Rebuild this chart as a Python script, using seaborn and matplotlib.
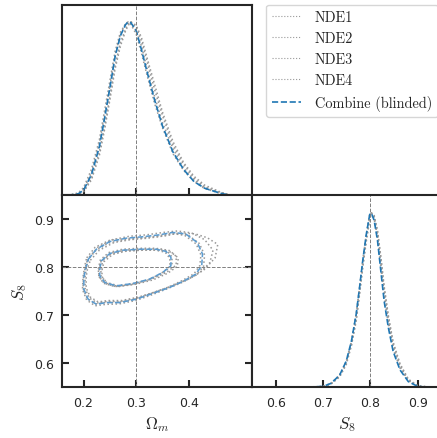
import numpy as np
import pandas as pd
import seaborn as sns
import matplotlib
matplotlib.use('Agg')
import matplotlib.pyplot as plt

# ---- marginal of Omega_m (normalised to peak = 1)
om_grid = [0.17, 0.19, 0.20, 0.215, 0.23, 0.24, 0.25, 0.26, 0.27, 0.28, 0.285, 0.29,
           0.30, 0.31, 0.32, 0.335, 0.35, 0.37, 0.39, 0.41, 0.43, 0.46, 0.48]
om_combine = [0.0, 0.01, 0.03, 0.12, 0.28, 0.445, 0.62, 0.80, 0.92, 0.985, 1.0, 0.995,
              0.95, 0.84, 0.72, 0.55, 0.40, 0.25, 0.15, 0.08, 0.042, 0.013, 0.0]
om_nde1 = [0.0, 0.015, 0.045, 0.15, 0.32, 0.49, 0.66, 0.83, 0.94, 0.99, 1.0, 0.985,
           0.93, 0.82, 0.70, 0.53, 0.39, 0.24, 0.145, 0.08, 0.04, 0.012, 0.0]
om_nde2 = [0.0, 0.008, 0.025, 0.10, 0.25, 0.40, 0.57, 0.75, 0.88, 0.96, 0.99, 1.0,
           0.97, 0.89, 0.78, 0.61, 0.46, 0.29, 0.18, 0.10, 0.05, 0.018, 0.0]
om_nde3 = [0.0, 0.006, 0.02, 0.09, 0.23, 0.38, 0.55, 0.73, 0.86, 0.95, 0.98, 1.0,
           0.98, 0.91, 0.80, 0.64, 0.48, 0.31, 0.19, 0.11, 0.06, 0.02, 0.0]
om_nde4 = [0.0, 0.012, 0.035, 0.13, 0.30, 0.46, 0.63, 0.81, 0.93, 0.99, 1.0, 0.99,
           0.95, 0.86, 0.74, 0.57, 0.42, 0.27, 0.16, 0.09, 0.045, 0.015, 0.0]

# ---- marginal of S8
s8_grid = [0.65, 0.70, 0.717, 0.735, 0.749, 0.76, 0.77, 0.777, 0.784, 0.7915, 0.7985,
           0.802, 0.808, 0.815, 0.822, 0.829, 0.838, 0.848, 0.8625, 0.88, 0.90, 0.93]
s8_combine = [0.0, 0.005, 0.023, 0.07, 0.15, 0.265, 0.42, 0.57, 0.73, 0.88, 0.99,
              1.0, 0.957, 0.842, 0.668, 0.495, 0.341, 0.206, 0.10, 0.033, 0.005, 0.0]
s8_nde1 = [0.0, 0.005, 0.022, 0.068, 0.145, 0.26, 0.41, 0.56, 0.72, 0.87, 0.98,
           1.0, 0.97, 0.87, 0.71, 0.54, 0.38, 0.235, 0.12, 0.04, 0.007, 0.0]
s8_nde2 = [0.0, 0.004, 0.02, 0.062, 0.135, 0.245, 0.39, 0.54, 0.70, 0.85, 0.97,
           1.0, 0.98, 0.89, 0.74, 0.57, 0.40, 0.25, 0.13, 0.045, 0.008, 0.0]
s8_nde3 = [0.0, 0.005, 0.023, 0.07, 0.15, 0.265, 0.42, 0.57, 0.73, 0.88, 0.99,
           1.0, 0.965, 0.86, 0.69, 0.52, 0.36, 0.22, 0.11, 0.037, 0.006, 0.0]
s8_nde4 = [0.0, 0.004, 0.019, 0.06, 0.13, 0.24, 0.38, 0.53, 0.69, 0.84, 0.96,
           1.0, 0.985, 0.90, 0.75, 0.58, 0.41, 0.26, 0.135, 0.047, 0.009, 0.0]

# ---- 2D contours (Omega_m, S8), closed paths
outer_combine = [(0.209, 0.817), (0.2245, 0.838), (0.250, 0.854), (0.281, 0.861), (0.313, 0.864),
                 (0.344, 0.868), (0.369, 0.873), (0.394, 0.870), (0.416, 0.852), (0.426, 0.828),
                 (0.4245, 0.8035), (0.413, 0.786), (0.391, 0.772), (0.363, 0.758), (0.331, 0.7456),
                 (0.300, 0.7337), (0.2686, 0.7267), (0.2434, 0.7267), (0.2245, 0.7232),
                 (0.2088, 0.7337), (0.2006, 0.7546), (0.2006, 0.779), (0.2044, 0.800), (0.209, 0.817)]
inner_combine = [(0.2308, 0.7965), (0.234, 0.814), (0.2497, 0.829), (0.2748, 0.836), (0.3063, 0.838),
                 (0.3377, 0.838), (0.3566, 0.8335), (0.366, 0.821), (0.366, 0.8035), (0.3503, 0.7895),
                 (0.3252, 0.7756), (0.2937, 0.7665), (0.2623, 0.7616), (0.2402, 0.7686),
                 (0.2308, 0.7826), (0.2308, 0.7965)]
outer_nde = [
    [(0.206, 0.820), (0.222, 0.842), (0.250, 0.857), (0.283, 0.860), (0.315, 0.862), (0.347, 0.865),
     (0.372, 0.870), (0.398, 0.868), (0.420, 0.850), (0.430, 0.826), (0.428, 0.802), (0.414, 0.784),
     (0.390, 0.770), (0.360, 0.756), (0.330, 0.743), (0.299, 0.731), (0.268, 0.724), (0.242, 0.723),
     (0.222, 0.720), (0.206, 0.732), (0.198, 0.754), (0.199, 0.780), (0.202, 0.802), (0.206, 0.820)],
    [(0.211, 0.822), (0.228, 0.843), (0.255, 0.858), (0.287, 0.865), (0.320, 0.868), (0.352, 0.873),
     (0.378, 0.876), (0.405, 0.872), (0.430, 0.858), (0.446, 0.836), (0.440, 0.810), (0.422, 0.790),
     (0.395, 0.774), (0.365, 0.760), (0.334, 0.748), (0.302, 0.736), (0.270, 0.729), (0.245, 0.729),
     (0.226, 0.726), (0.211, 0.736), (0.203, 0.756), (0.203, 0.781), (0.206, 0.803), (0.211, 0.822)],
    [(0.213, 0.815), (0.230, 0.836), (0.258, 0.852), (0.290, 0.858), (0.322, 0.861), (0.355, 0.866),
     (0.382, 0.872), (0.412, 0.870), (0.435, 0.862), (0.455, 0.848), (0.450, 0.820), (0.430, 0.796),
     (0.400, 0.776), (0.368, 0.761), (0.336, 0.749), (0.304, 0.738), (0.272, 0.731), (0.246, 0.731),
     (0.228, 0.728), (0.213, 0.738), (0.205, 0.757), (0.205, 0.781), (0.208, 0.800), (0.213, 0.815)],
    [(0.207, 0.814), (0.223, 0.835), (0.248, 0.851), (0.280, 0.858), (0.311, 0.861), (0.342, 0.866),
     (0.367, 0.871), (0.392, 0.867), (0.414, 0.849), (0.423, 0.826), (0.421, 0.804), (0.410, 0.787),
     (0.388, 0.773), (0.361, 0.759), (0.329, 0.746), (0.298, 0.734), (0.266, 0.727), (0.241, 0.727),
     (0.223, 0.724), (0.207, 0.735), (0.199, 0.756), (0.200, 0.780), (0.203, 0.799), (0.207, 0.814)],
]
inner_nde = [
    [(0.228, 0.797), (0.232, 0.816), (0.248, 0.831), (0.274, 0.838), (0.306, 0.840), (0.338, 0.840),
     (0.358, 0.835), (0.368, 0.822), (0.368, 0.804), (0.352, 0.789), (0.326, 0.775), (0.294, 0.765),
     (0.261, 0.760), (0.239, 0.767), (0.229, 0.782), (0.228, 0.797)],
    [(0.233, 0.798), (0.237, 0.815), (0.253, 0.830), (0.279, 0.836), (0.311, 0.838), (0.344, 0.839),
     (0.364, 0.835), (0.376, 0.823), (0.376, 0.805), (0.358, 0.790), (0.330, 0.776), (0.297, 0.767),
     (0.265, 0.762), (0.243, 0.769), (0.233, 0.783), (0.233, 0.798)],
    [(0.235, 0.795), (0.239, 0.812), (0.255, 0.827), (0.281, 0.834), (0.313, 0.836), (0.346, 0.836),
     (0.366, 0.832), (0.380, 0.820), (0.378, 0.802), (0.360, 0.788), (0.332, 0.774), (0.299, 0.765),
     (0.266, 0.760), (0.245, 0.767), (0.235, 0.781), (0.235, 0.795)],
    [(0.229, 0.794), (0.233, 0.812), (0.249, 0.827), (0.273, 0.834), (0.304, 0.836), (0.336, 0.836),
     (0.355, 0.832), (0.364, 0.819), (0.364, 0.802), (0.348, 0.788), (0.323, 0.774), (0.292, 0.765),
     (0.260, 0.760), (0.238, 0.767), (0.229, 0.781), (0.229, 0.794)],
]

labels = ['NDE1', 'NDE2', 'NDE3', 'NDE4']
om_truth = 0.3
s8_truth = 0.8

sns.set_style('ticks')
plt.rcParams['mathtext.fontset'] = 'cm'
plt.rcParams['font.family'] = ['DejaVu Sans']

gray = '#999999'
blue = '#1f77b4'

fig = plt.figure(figsize=(4.37, 4.39), dpi=100)
ax_om = fig.add_axes([0.1430, 0.5524, 0.4336, 0.4350])
ax_2d = fig.add_axes([0.1430, 0.1154, 0.4336, 0.4370])
ax_s8 = fig.add_axes([0.5766, 0.1154, 0.4336, 0.4370])
ax_leg = fig.add_axes([0.5766, 0.5524, 0.4336, 0.4350])
ax_leg.axis('off')


def draw_line(ax, x, y, **kw):
    sns.lineplot(x=x, y=y, ax=ax, sort=False, estimator=None, legend=False, **kw)


# Omega_m marginal
for lab, h in zip(labels, [om_nde1, om_nde2, om_nde3, om_nde4]):
    draw_line(ax_om, om_grid, h, color=gray, linestyle=':', linewidth=1.1)
draw_line(ax_om, om_grid, om_combine, color=blue, linestyle='--', linewidth=1.2)
ax_om.axvline(om_truth, color='gray', linestyle='--', linewidth=0.7)
ax_om.set_xlim(0.16, 0.52)
ax_om.set_ylim(0, 1.1)
ax_om.set_yticks([])
ax_om.set_xticks([0.2, 0.3, 0.4])
ax_om.set_xticklabels([])

# 2D contours
for cont in outer_nde + inner_nde:
    c = np.array(cont)
    draw_line(ax_2d, c[:, 0], c[:, 1], color=gray, linestyle=':', linewidth=1.1)
for cont in [outer_combine, inner_combine]:
    c = np.array(cont)
    draw_line(ax_2d, c[:, 0], c[:, 1], color='#5a9bd0', linestyle='--', linewidth=1.1)
ax_2d.axvline(om_truth, color='gray', linestyle='--', linewidth=0.7)
ax_2d.axhline(s8_truth, color='gray', linestyle='--', linewidth=0.7)
ax_2d.set_xlim(0.16, 0.52)
ax_2d.set_ylim(0.55, 0.95)
ax_2d.set_xticks([0.2, 0.3, 0.4])
ax_2d.set_yticks([0.6, 0.7, 0.8, 0.9])
ax_2d.set_xlabel(r'$\Omega_m$', fontsize=12)
ax_2d.set_ylabel(r'$S_8$', fontsize=12)

# S8 marginal
for lab, h in zip(labels, [s8_nde1, s8_nde2, s8_nde3, s8_nde4]):
    draw_line(ax_s8, s8_grid, h, color=gray, linestyle=':', linewidth=1.1)
draw_line(ax_s8, s8_grid, s8_combine, color=blue, linestyle='--', linewidth=1.2)
ax_s8.axvline(s8_truth, color='gray', linestyle='--', linewidth=0.7)
ax_s8.set_xlim(0.55, 0.95)
ax_s8.set_ylim(0, 1.1)
ax_s8.set_yticks([])
ax_s8.set_xticks([0.6, 0.7, 0.8, 0.9])
ax_s8.set_xlabel(r'$S_8$', fontsize=12)

for ax in [ax_om, ax_2d, ax_s8]:
    for sp in ax.spines.values():
        sp.set_visible(True)
        sp.set_linewidth(1.5)
    ax.tick_params(direction='in', length=5, width=1.5, labelsize=9, pad=6)
ax_2d.tick_params(right=True)

# legend
handles = [plt.Line2D([], [], color=gray, linestyle=':', linewidth=0.8) for _ in labels]
handles.append(plt.Line2D([], [], color=blue, linestyle='--', linewidth=1.2))
ax_leg.legend(handles, labels + ['Combine (blinded)'], loc='upper left',
              bbox_to_anchor=(0.075, 1.0), frameon=True, fancybox=True,
              prop={'family': 'cmr10', 'size': 10.3}, handlelength=2.0,
              handletextpad=1.0, labelspacing=0.52, borderaxespad=0.0,
              borderpad=0.4, edgecolor='#cccccc')

fig.savefig('out.png', dpi=100)
